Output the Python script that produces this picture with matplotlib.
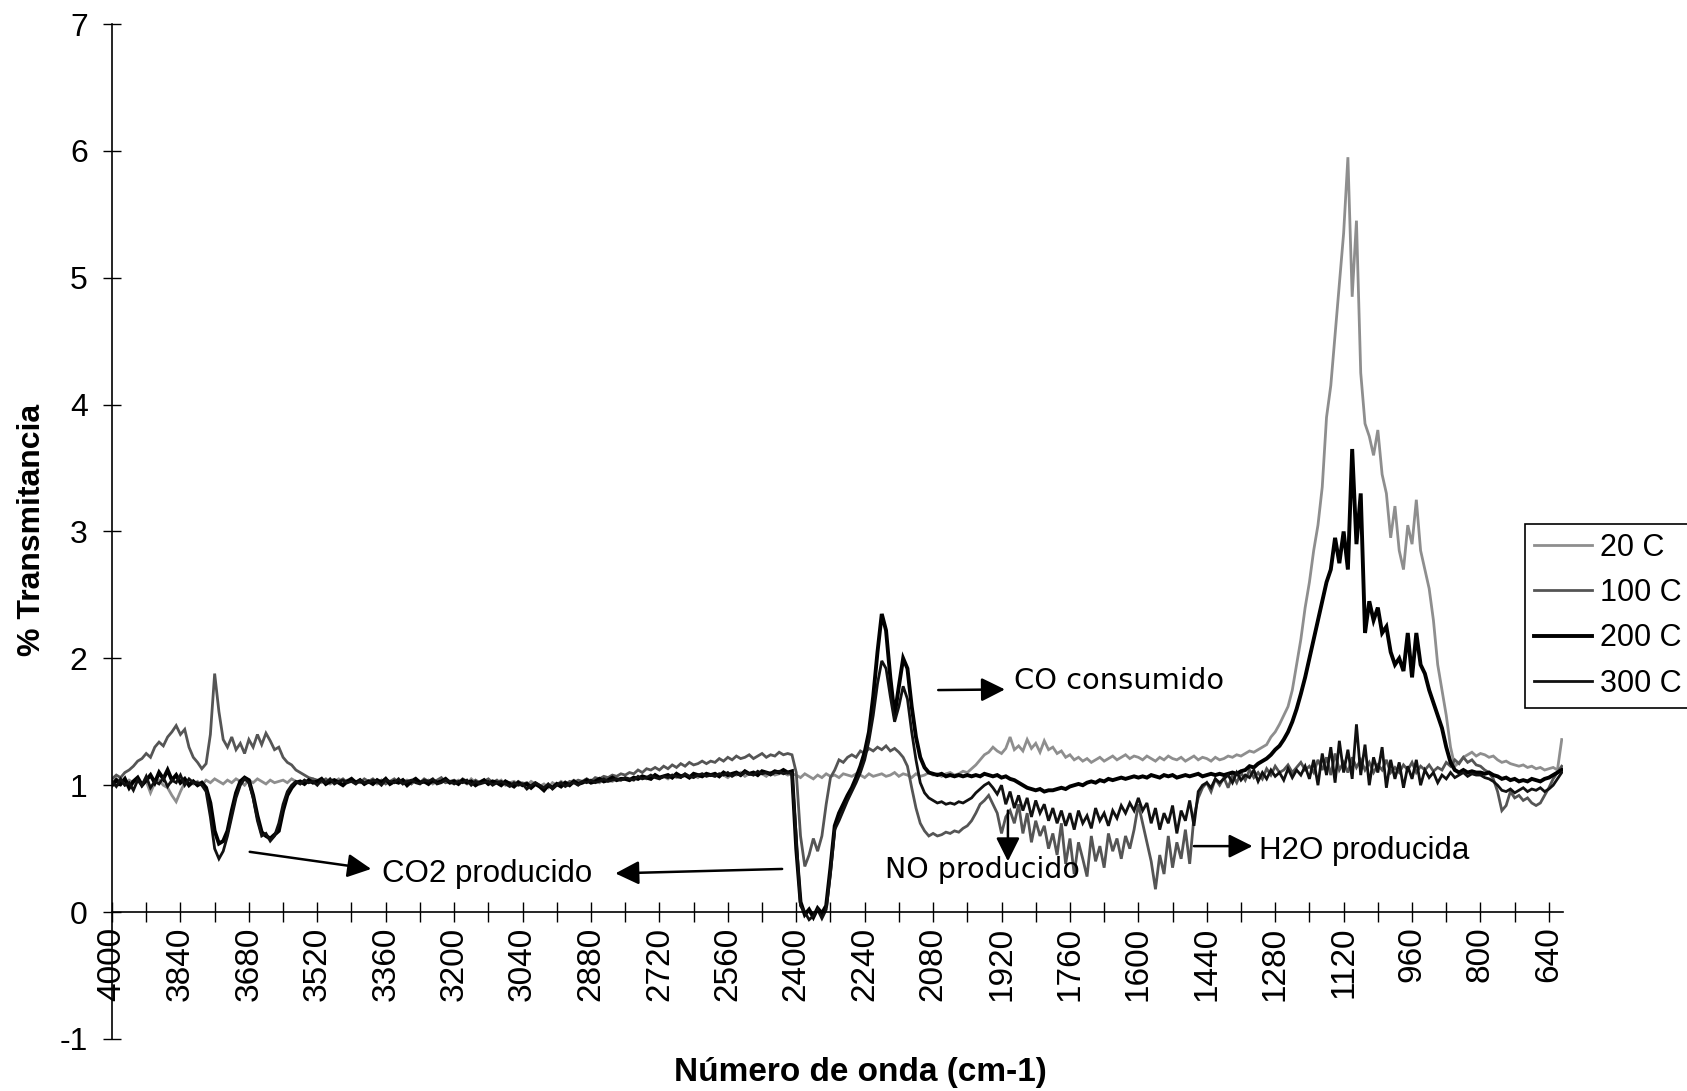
import numpy as np
import matplotlib
matplotlib.use("Agg")
import matplotlib.pyplot as plt

# ---------------- data ----------------
# wavenumber grid (cm-1), 4000 -> 610 in steps of 10
wavenumber = np.arange(4000, 605, -10)

t20 = [  # 20 C
    1.02,1.05,1.03,1.00,1.04,1.02,1.05,1.01,1.03,0.94,1.02,1.04,1.00,0.98,0.92,0.87,0.95,1.02,1.04,1.01,
    1.03,1.00,1.04,1.02,1.05,1.03,1.01,1.04,1.02,1.05,1.03,1.00,1.04,1.02,1.05,1.03,1.01,1.04,1.02,1.03,
    1.04,1.02,1.05,1.03,1.01,1.04,1.02,1.05,1.03,1.02,1.04,1.01,1.03,1.05,1.02,1.04,1.03,1.01,1.04,1.02,
    1.03,1.04,1.01,1.03,1.05,1.02,1.04,1.03,1.01,1.04,1.02,1.05,1.03,1.02,1.04,1.01,1.03,1.04,1.02,1.03,
    1.02,1.04,1.03,1.01,1.05,1.02,1.03,1.04,1.01,1.03,1.02,1.04,1.00,1.02,1.03,1.01,1.02,1.00,1.03,1.01,
    0.99,1.01,0.98,1.02,1.00,1.03,1.01,1.02,1.04,1.02,1.03,1.05,1.03,1.04,1.02,1.05,1.04,1.03,1.05,1.04,
    1.05,1.04,1.06,1.05,1.07,1.05,1.06,1.08,1.06,1.07,1.05,1.08,1.06,1.07,1.09,1.07,1.08,1.06,1.09,1.08,
    1.08,1.07,1.09,1.08,1.06,1.09,1.08,1.10,1.07,1.09,1.08,1.10,1.09,1.07,1.10,1.08,1.09,1.10,1.08,1.09,
    1.08,1.06,1.09,1.07,1.05,1.08,1.06,1.09,1.07,1.08,1.06,1.09,1.08,1.07,1.09,1.08,1.06,1.09,1.07,1.08,
    1.09,1.07,1.08,1.10,1.07,1.09,1.08,1.06,1.09,1.07,1.08,1.10,1.08,1.09,1.07,1.09,1.10,1.08,1.09,1.11,
    1.10,1.13,1.16,1.20,1.24,1.26,1.30,1.27,1.25,1.29,1.38,1.28,1.31,1.27,1.36,1.29,1.33,1.26,1.35,1.28,
    1.30,1.25,1.27,1.22,1.24,1.20,1.22,1.19,1.21,1.18,1.20,1.22,1.19,1.21,1.23,1.20,1.22,1.24,1.21,1.23,
    1.22,1.20,1.23,1.21,1.19,1.22,1.20,1.23,1.21,1.20,1.22,1.19,1.21,1.23,1.20,1.22,1.21,1.19,1.22,1.20,
    1.21,1.23,1.22,1.24,1.23,1.25,1.27,1.26,1.28,1.30,1.32,1.38,1.42,1.48,1.55,1.62,1.75,1.95,2.15,2.40,
    2.60,2.85,3.05,3.35,3.90,4.15,4.55,4.95,5.35,5.95,4.85,5.45,4.25,3.85,3.75,3.60,3.80,3.45,3.30,2.95,
    3.20,2.85,2.70,3.05,2.90,3.25,2.85,2.70,2.55,2.30,1.95,1.75,1.55,1.30,1.15,1.18,1.22,1.24,1.26,1.23,
    1.25,1.24,1.22,1.23,1.20,1.18,1.19,1.17,1.16,1.15,1.16,1.14,1.15,1.13,1.14,1.12,1.13,1.14,1.12,1.36,
]

t100 = [  # 100 C
    1.05,1.08,1.06,1.10,1.12,1.15,1.19,1.21,1.25,1.22,1.30,1.34,1.31,1.38,1.42,1.47,1.40,1.44,1.30,1.22,
    1.18,1.13,1.17,1.40,1.88,1.58,1.36,1.30,1.38,1.28,1.33,1.25,1.36,1.30,1.40,1.32,1.41,1.35,1.28,1.30,
    1.22,1.18,1.16,1.12,1.10,1.08,1.06,1.05,1.04,1.03,1.05,1.02,1.04,1.03,1.05,1.02,1.04,1.03,1.02,1.05,
    1.03,1.05,1.02,1.04,1.01,1.03,1.05,1.02,1.04,1.03,1.01,1.04,1.02,1.05,1.03,1.02,1.04,1.06,1.02,1.03,
    1.04,1.02,1.05,1.03,1.01,1.04,1.02,1.03,1.05,1.02,1.04,1.01,1.03,1.02,1.00,1.03,1.01,1.02,0.99,1.02,
    1.00,0.97,1.00,0.98,1.01,1.02,1.00,1.03,1.02,1.04,1.03,1.05,1.03,1.06,1.05,1.07,1.06,1.08,1.07,1.09,
    1.08,1.10,1.09,1.12,1.10,1.13,1.12,1.14,1.12,1.15,1.13,1.16,1.14,1.17,1.15,1.18,1.16,1.17,1.19,1.17,
    1.19,1.18,1.21,1.19,1.22,1.20,1.23,1.21,1.22,1.24,1.21,1.23,1.25,1.22,1.24,1.23,1.26,1.24,1.25,1.24,
    1.10,0.60,0.36,0.45,0.58,0.48,0.60,0.85,1.06,1.12,1.20,1.18,1.22,1.24,1.22,1.27,1.25,1.29,1.27,1.30,
    1.28,1.31,1.27,1.29,1.26,1.22,1.15,0.98,0.82,0.70,0.64,0.60,0.62,0.60,0.61,0.63,0.62,0.64,0.63,0.66,
    0.68,0.72,0.78,0.85,0.88,0.92,0.85,0.78,0.62,0.75,0.80,0.70,0.85,0.62,0.78,0.55,0.72,0.60,0.68,0.50,
    0.62,0.45,0.70,0.38,0.58,0.30,0.55,0.42,0.28,0.60,0.40,0.52,0.35,0.62,0.48,0.58,0.42,0.60,0.50,0.65,
    0.85,0.70,0.55,0.40,0.18,0.45,0.30,0.60,0.35,0.55,0.42,0.65,0.38,0.75,0.90,0.98,1.02,0.95,1.05,1.00,
    1.06,0.98,1.08,1.02,1.10,1.04,1.12,1.06,1.10,1.05,1.13,1.08,1.15,1.10,1.12,1.16,1.10,1.14,1.18,1.12,
    1.15,1.10,1.20,1.12,1.22,1.08,1.25,1.12,1.18,1.10,1.22,1.14,1.20,1.12,1.18,1.10,1.16,1.12,1.20,1.10,
    1.14,1.10,1.16,1.12,1.18,1.10,1.15,1.12,1.16,1.11,1.14,1.12,1.18,1.15,1.20,1.17,1.22,1.18,1.20,1.16,
    1.15,1.12,1.10,1.05,0.95,0.80,0.84,0.95,0.90,0.92,0.88,0.90,0.86,0.84,0.86,0.92,0.98,1.05,1.10,1.15,
]

t200 = [  # 200 C
    1.00,1.04,1.01,1.05,0.98,1.03,1.06,1.00,1.04,1.08,1.02,1.10,1.05,1.12,1.04,1.08,1.02,1.05,1.00,1.03,
    1.00,1.02,0.98,0.86,0.64,0.54,0.56,0.64,0.80,0.94,1.03,1.06,1.04,0.92,0.76,0.63,0.60,0.58,0.61,0.64,
    0.80,0.92,0.98,1.02,1.03,1.01,1.04,1.02,1.03,1.05,1.01,1.03,1.04,1.02,1.00,1.03,1.05,1.02,1.04,1.01,
    1.03,1.01,1.04,1.02,1.05,1.01,1.03,1.02,1.04,1.00,1.03,1.05,1.02,1.03,1.01,1.04,1.02,1.03,1.05,1.02,
    1.03,1.01,1.04,1.02,1.03,1.00,1.02,1.04,1.01,1.03,1.02,1.00,1.03,1.01,0.99,1.02,1.00,1.01,0.98,1.01,
    0.99,0.96,1.00,0.98,1.01,0.99,1.02,1.00,1.03,1.01,1.02,1.04,1.02,1.03,1.05,1.03,1.04,1.06,1.04,1.05,
    1.05,1.04,1.06,1.05,1.07,1.06,1.05,1.08,1.06,1.07,1.08,1.06,1.09,1.07,1.08,1.06,1.09,1.08,1.07,1.09,
    1.08,1.09,1.07,1.10,1.08,1.09,1.10,1.08,1.11,1.09,1.10,1.08,1.11,1.10,1.09,1.11,1.10,1.12,1.10,1.11,
    0.50,0.08,-0.02,0.02,-0.04,0.03,-0.01,0.05,0.35,0.68,0.78,0.85,0.92,0.98,1.06,1.15,1.26,1.42,1.70,2.05,
    2.35,2.22,1.85,1.55,1.78,2.00,1.92,1.62,1.38,1.22,1.14,1.10,1.09,1.08,1.09,1.07,1.08,1.07,1.08,1.07,
    1.08,1.07,1.08,1.07,1.09,1.08,1.07,1.08,1.06,1.07,1.05,1.04,1.02,1.00,0.98,0.97,0.96,0.97,0.95,0.96,
    0.96,0.97,0.98,0.97,0.99,1.00,1.01,1.00,1.02,1.03,1.02,1.04,1.03,1.05,1.04,1.05,1.06,1.05,1.06,1.07,
    1.06,1.07,1.06,1.08,1.07,1.06,1.08,1.07,1.08,1.06,1.07,1.08,1.07,1.08,1.09,1.07,1.08,1.09,1.08,1.09,
    1.08,1.09,1.10,1.09,1.11,1.12,1.15,1.14,1.17,1.19,1.21,1.24,1.28,1.31,1.36,1.42,1.50,1.60,1.72,1.85,
    2.00,2.15,2.30,2.45,2.60,2.70,2.95,2.75,3.00,2.70,3.65,2.90,3.30,2.20,2.45,2.30,2.40,2.20,2.25,2.05,
    1.95,2.00,1.90,2.20,1.85,2.20,1.95,1.88,1.75,1.65,1.55,1.45,1.30,1.18,1.12,1.10,1.12,1.10,1.11,1.10,
    1.10,1.09,1.10,1.08,1.07,1.05,1.06,1.04,1.05,1.03,1.04,1.03,1.05,1.04,1.03,1.05,1.06,1.08,1.10,1.12,
]

t300 = [  # 300 C
    1.03,0.99,1.05,1.00,1.02,0.96,1.04,1.00,1.07,0.98,1.03,1.01,1.06,0.99,1.04,1.02,1.08,1.00,1.05,1.02,
    1.02,1.00,0.95,0.75,0.50,0.42,0.48,0.60,0.75,0.90,1.00,1.05,1.02,0.90,0.72,0.60,0.62,0.56,0.60,0.70,
    0.85,0.95,1.00,1.03,1.01,1.04,1.02,1.03,1.00,1.04,1.02,1.05,1.01,1.03,1.04,1.02,1.03,1.01,1.04,1.02,
    1.02,1.04,1.03,1.00,1.04,1.03,1.02,1.05,1.01,1.03,1.04,1.02,1.01,1.04,1.03,1.05,1.01,1.02,1.04,1.03,
    1.01,1.03,1.02,1.04,1.00,1.03,1.01,1.02,1.03,1.00,1.02,1.03,1.01,0.99,1.02,1.00,1.01,0.97,1.00,1.02,
    1.00,0.98,1.01,0.97,1.00,1.02,0.99,1.01,1.02,1.00,1.03,1.02,1.04,1.02,1.03,1.05,1.03,1.04,1.05,1.04,
    1.06,1.05,1.04,1.07,1.05,1.06,1.08,1.06,1.05,1.07,1.06,1.08,1.07,1.06,1.09,1.07,1.06,1.08,1.09,1.07,
    1.08,1.07,1.09,1.08,1.10,1.07,1.09,1.08,1.10,1.09,1.08,1.11,1.09,1.10,1.08,1.10,1.11,1.09,1.10,1.09,
    0.60,0.05,0.00,-0.06,-0.03,0.02,-0.05,0.02,0.30,0.65,0.72,0.80,0.88,0.95,1.02,1.10,1.20,1.35,1.55,1.80,
    1.98,1.92,1.70,1.50,1.62,1.78,1.68,1.42,1.20,1.02,0.94,0.90,0.88,0.86,0.87,0.85,0.86,0.85,0.87,0.86,
    0.88,0.90,0.94,0.97,1.00,1.02,0.98,0.93,1.00,0.85,0.95,0.82,0.92,0.80,0.90,0.75,0.88,0.78,0.85,0.72,
    0.82,0.70,0.80,0.68,0.78,0.65,0.80,0.70,0.76,0.66,0.82,0.72,0.78,0.68,0.80,0.74,0.84,0.78,0.86,0.80,
    0.90,0.80,0.86,0.70,0.82,0.65,0.78,0.70,0.84,0.62,0.80,0.72,0.88,0.68,0.95,1.00,1.02,0.98,1.05,1.02,
    1.05,1.08,1.02,1.10,1.04,1.08,1.06,1.12,1.03,1.10,1.05,1.12,1.07,1.10,1.04,1.13,1.06,1.12,1.08,1.15,
    1.05,1.20,1.00,1.25,1.08,1.30,1.02,1.35,1.10,1.28,1.05,1.48,1.08,1.32,1.00,1.22,1.10,1.30,0.98,1.20,
    1.05,1.18,0.98,1.15,1.05,1.20,1.00,1.12,1.06,1.10,1.02,1.08,1.05,1.10,1.06,1.08,1.10,1.07,1.09,1.08,
    1.08,1.06,1.05,1.03,1.00,0.96,0.95,0.97,0.94,0.96,0.98,0.95,0.97,0.96,0.98,0.95,0.97,1.00,1.05,1.10,
]

series_labels = ["20 C", "100 C", "200 C", "300 C"]
series_values = [t20, t100, t200, t300]

x_ticks_major = np.arange(4000, 639, -160)
x_ticks_minor = np.arange(3920, 639, -160)
y_ticks = list(range(-1, 8))

# ---------------- styling ----------------
styles = [
    dict(color="#8e8e8e", lw=2.0),
    dict(color="#555555", lw=2.0),
    dict(color="#000000", lw=2.8),
    dict(color="#111111", lw=2.0),
]

plt.rcParams["font.family"] = ["Liberation Sans", "DejaVu Sans"]

fig = plt.figure(figsize=(16.87, 10.91), dpi=100)
ax = fig.add_axes([0.0664, 0.0477, 0.8601, 0.9303])

for vals, lab, st in zip(series_values, series_labels, styles):
    ax.plot(wavenumber, vals, label=lab, solid_joinstyle="miter", **st)

ax.set_xlim(4000, 607)
ax.set_ylim(-1, 7)

for s in ["top", "right"]:
    ax.spines[s].set_visible(False)
ax.spines["bottom"].set_position(("data", 0))
ax.spines["bottom"].set_linewidth(1.2)
ax.spines["left"].set_linewidth(1.2)

ax.set_xticks(x_ticks_major)
ax.set_xticklabels([str(v) for v in x_ticks_major], rotation=90)
ax.set_xticks(x_ticks_minor, minor=True)
ax.set_yticks(y_ticks)
ax.set_yticklabels([str(v) for v in y_ticks])

ax.tick_params(axis="x", which="both", direction="inout", length=15, width=1.0, pad=3, labelsize=24)
ax.tick_params(axis="y", which="both", direction="inout", length=13, width=1.0, pad=11, labelsize=23)

# axis titles
fig.text(0.510, 0.0165, "Número de onda (cm-1)", ha="center", va="center",
         fontsize=24, fontweight="bold")
fig.text(0.019, 0.514, "% Transmitancia", ha="center", va="center", rotation=90,
         fontsize=23, fontweight="bold")

# annotations
arrow_kw = dict(arrowstyle="-|>", color="black", lw=1.8, mutation_scale=36,
                shrinkA=0, shrinkB=0)
ax.annotate("", xy=(3394, 0.34), xytext=(3678, 0.475), arrowprops=arrow_kw)
ax.annotate("", xy=(2823, 0.305), xytext=(2433, 0.34), arrowprops=arrow_kw)
ax.annotate("", xy=(1912, 1.755), xytext=(2068, 1.75), arrowprops=arrow_kw)
ax.annotate("", xy=(1905, 0.40), xytext=(1905, 0.80), arrowprops=arrow_kw)
ax.annotate("", xy=(1333, 0.52), xytext=(1470, 0.52), arrowprops=arrow_kw)

ax.text(3369, 0.30, "CO2 producido", ha="left", va="center", fontsize=22.5)
ax.text(1890, 1.82, "CO consumido", ha="left", va="center", fontsize=20.8,
        family=["DejaVu Sans"])
ax.text(2192, 0.33, "NO producido", ha="left", va="center", fontsize=20.5,
        family=["DejaVu Sans"])
ax.text(1319, 0.48, "H2O producida", ha="left", va="center", fontsize=22.5)

leg = ax.legend(loc="upper left", bbox_to_anchor=(0.904, 0.520),
                bbox_transform=fig.transFigure, fontsize=22, frameon=True,
                fancybox=False, edgecolor="black", framealpha=1,
                borderpad=0.3, labelspacing=0.5, handlelength=1.9,
                handletextpad=0.25, borderaxespad=0)
leg.get_frame().set_linewidth(1.2)

fig.savefig("out.png", dpi=100)
